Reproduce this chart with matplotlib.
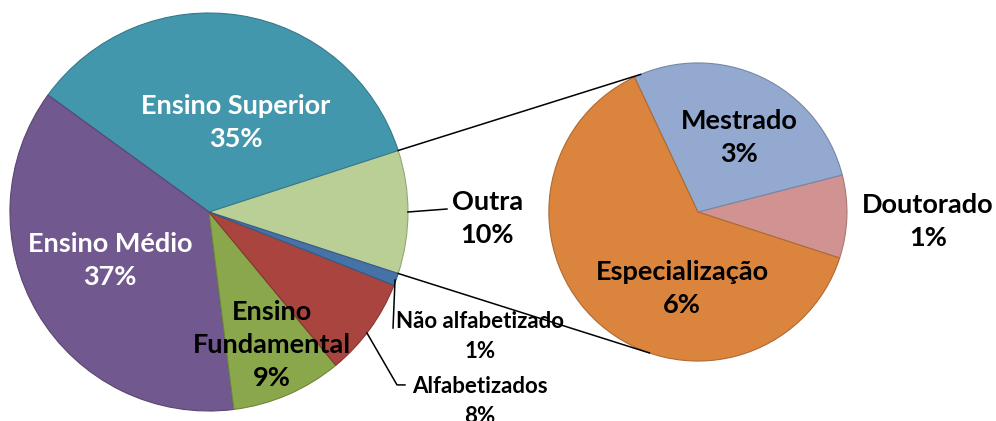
import numpy as np
import matplotlib.pyplot as plt
import matplotlib.colors as mcolors

# main pie, counterclockwise from the right
main_labels = ['Outra', 'Ensino Superior', 'Ensino Médio', 'Ensino\nFundamental',
               'Alfabetizados', 'Não alfabetizado']
main_values = [10, 35, 37, 9, 8, 1]
main_colors = ['#B9CF96', '#4397AC', '#71588F', '#8AA84B', '#A9443F', '#4572A7']

# breakdown of "Outra"
sub_labels = ['Doutorado', 'Mestrado', 'Especialização']
sub_values = [0.9, 2.8, 6.3]
sub_colors = ['#D19392', '#93A9CF', '#DB843D']

plt.rcParams['font.family'] = ['Lato', 'DejaVu Sans']


def darker(c, f=0.8):
    r, g, b = mcolors.to_rgb(c)
    return (r * f, g * f, b * f)


fig = plt.figure(figsize=(9.96, 4.21), dpi=100)
ax = fig.add_axes([0, 0, 1, 1])

start = -main_values[0] / sum(main_values) * 180
main_wedges, _ = ax.pie(main_values, colors=main_colors, startangle=start,
                        counterclock=True, radius=1.0, center=(0, 0), frame=True,
                        wedgeprops=dict(linewidth=0.8))
for w, c in zip(main_wedges, main_colors):
    w.set_edgecolor(darker(c))

c2 = (2.457, 0.0)
r2 = 0.749
sub_wedges, _ = ax.pie(sub_values, colors=sub_colors, startangle=start,
                       counterclock=True, radius=r2, center=c2, frame=True,
                       wedgeprops=dict(linewidth=0.8))
for w, c in zip(sub_wedges, sub_colors):
    w.set_edgecolor(darker(c))
ax.set_xlim(-1.050, 3.955)
ax.set_ylim(-1.050, 1.065)
ax.axis('off')

# connector lines from Outra slice to the secondary pie
t1 = np.deg2rad(main_wedges[0].theta1)
t2 = np.deg2rad(main_wedges[0].theta2)
a_top, a_bot = np.deg2rad(112.6), np.deg2rad(-109)
ax.plot([np.cos(t2), c2[0] + r2 * np.cos(a_top)], [np.sin(t2), r2 * np.sin(a_top)],
        color='black', lw=1.1)
ax.plot([np.cos(t1), c2[0] + r2 * np.cos(a_bot)], [np.sin(t1), r2 * np.sin(a_bot)],
        color='black', lw=1.1)

# leader lines
ax.plot([1.0, 1.196], [0.0, 0.015], color='black', lw=1.1)
ax.plot([0.935, 0.925], [-0.342, -0.583], color='black', lw=1.1)
ax.plot([0.794, 0.945, 0.985], [-0.608, -0.869, -0.869], color='black', lw=1.1)

fs = 19.5
main_pos = [(1.40, -1.4), (0.47, 73.3), (0.553, 205.9), (0.74, 295.3),
            (1.66, -35.0), (1.50, -24.7)]
main_txt_col = ['black', 'white', 'white', 'black', 'black', 'black']
for lab, v, (r, a), col in zip(main_labels, main_values, main_pos, main_txt_col):
    small = lab in ('Alfabetizados', 'Não alfabetizado')
    ax.text(r * np.cos(np.deg2rad(a)), r * np.sin(np.deg2rad(a)),
            f'{lab}\n{round(v)}%', ha='center', va='center',
            fontsize=16 if small else fs, fontweight='bold', color=col,
            linespacing=1.5 if small else 1.45)

sub_pos = [(1.156, -0.050), (0.206, 0.372), (-0.080, -0.382)]
for lab, v, (dx, dy) in zip(sub_labels, sub_values, sub_pos):
    ax.text(c2[0] + dx, c2[1] + dy, f'{lab}\n{round(v)}%', ha='center', va='center',
            fontsize=fs, fontweight='bold', color='black', linespacing=1.45)

fig.savefig('out.png', dpi=100, facecolor='white')
